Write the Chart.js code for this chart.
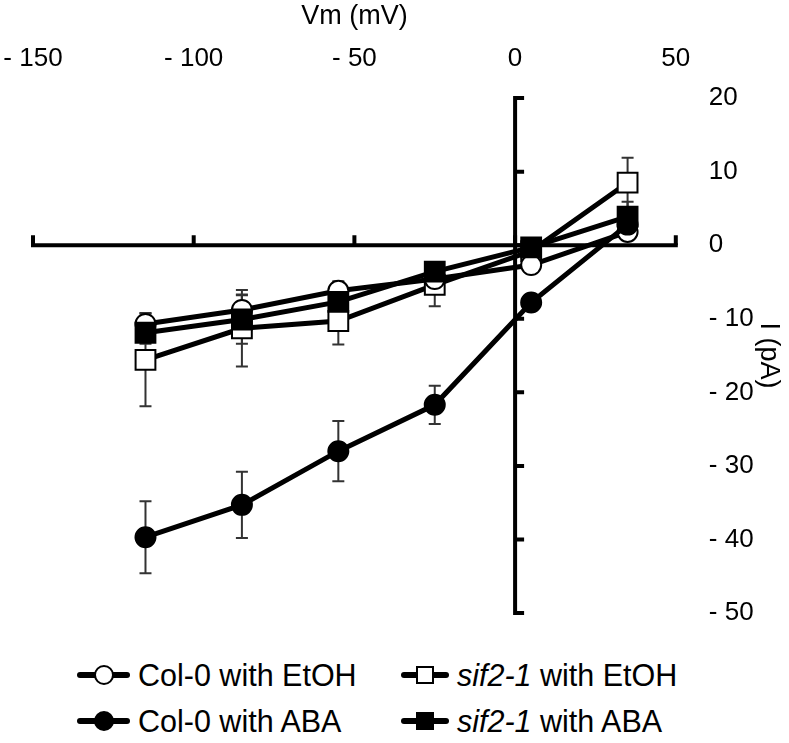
<!DOCTYPE html>
<html>
<head>
<meta charset="utf-8">
<script src="https://cdn.jsdelivr.net/npm/chart.js@4.4.1/dist/chart.umd.min.js"></script>
<style>
  body { margin: 0; background: #fff; }
  #wrap { position: relative; width: 789px; height: 743px; font-family: "Liberation Sans", Arial, sans-serif; }
  #ivChart { position: absolute; left: 0; top: 0; }
  .leg { position: absolute; font-size: 30.5px; color: #000; white-space: nowrap; line-height: 1; }
  .leg .icon { position: absolute; left: 0; top: 50%; height: 6px; margin-top: -3px; background: #000; border-radius: 3px; }
  .leg .mk { position: absolute; top: 50%; left: 50%; box-sizing: border-box; border: 2px solid #000; }
  .leg .txt { position: absolute; top: 50%; transform: translateY(-50%); }
</style>
</head>
<body>
<div id="wrap">
  <canvas id="ivChart" width="789" height="640"></canvas>
  <div id="legend"></div>
</div>
<script>
// ==============================
// I-V curve (Vm vs I) recreation
// ==============================

// --- data ---
const voltages = [-115, -85, -55, -25, 5, 35];

const col0EtOH = [-10.7, -8.8, -6.2, -4.6, -2.7, 1.8];
const col0EtOHErr = [1.5, 2.1, 1.3, 1.2, 1.0, 1.0];

const col0ABA = [-39.7, -35.3, -28.0, -21.7, -7.8, 2.8];
const col0ABAErr = [4.9, 4.5, 4.1, 2.6, 1.0, 1.0];

const sif2EtOH = [-15.6, -11.3, -10.3, -5.4, -0.8, 8.5];
const sif2EtOHErr = [6.3, 5.2, 3.2, 2.9, 1.0, 3.4];

const sif2ABA = [-11.9, -10.1, -7.7, -3.6, -0.3, 3.9];
const sif2ABAErr = [1.5, 3.3, 1.5, 1.0, 1.0, 2.0];

const xTicks = [-150, -100, -50, 0, 50];
const yTicks = [20, 10, 0, -10, -20, -30, -40, -50];

// --- helpers ---
const toPoints = (ys) => voltages.map((v, i) => ({ x: v, y: ys[i] }));
const fmtTick = (v) => (v < 0 ? "- " + Math.abs(v) : String(v));
const FONT = "'Liberation Sans', Arial, sans-serif";

// axis lines crossing at the origin, ticks drawn on them
const crossAxes = {
  id: "crossAxes",
  beforeDatasetsDraw(chart) {
    const { ctx, scales: { x, y } } = chart;
    const y0 = y.getPixelForValue(0);
    const x0 = x.getPixelForValue(0);
    ctx.save();
    ctx.strokeStyle = "#000";
    ctx.lineWidth = 4;
    ctx.lineCap = "butt";
    ctx.beginPath();
    ctx.moveTo(x.getPixelForValue(xTicks[0]) - 2, y0);
    ctx.lineTo(x.getPixelForValue(xTicks[xTicks.length - 1]) + 2, y0);
    ctx.moveTo(x0, y.getPixelForValue(yTicks[0]) - 2);
    ctx.lineTo(x0, y.getPixelForValue(yTicks[yTicks.length - 1]) + 2);
    ctx.stroke();
    ctx.beginPath();
    xTicks.forEach((t) => {
      const px = x.getPixelForValue(t);
      ctx.moveTo(px, y0);
      ctx.lineTo(px, y0 - 10);
    });
    yTicks.forEach((t) => {
      const py = y.getPixelForValue(t);
      ctx.moveTo(x0, py);
      ctx.lineTo(x0 + 9, py);
    });
    ctx.stroke();
    ctx.restore();
  },
};

// vertical error bars from the err arrays
const errorBars = {
  id: "errorBars",
  beforeDatasetsDraw(chart) {
    const { ctx, scales: { x, y } } = chart;
    ctx.save();
    ctx.strokeStyle = "#333";
    ctx.lineWidth = 2;
    chart.data.datasets.forEach((ds) => {
      ds.data.forEach((p, i) => {
        const e = ds.errors[i];
        const px = x.getPixelForValue(p.x);
        const top = y.getPixelForValue(p.y + e);
        const bot = y.getPixelForValue(p.y - e);
        ctx.beginPath();
        ctx.moveTo(px, top);
        ctx.lineTo(px, bot);
        ctx.moveTo(px - 6, top);
        ctx.lineTo(px + 6, top);
        ctx.moveTo(px - 6, bot);
        ctx.lineTo(px + 6, bot);
        ctx.stroke();
      });
    });
    ctx.restore();
  },
};

function series(label, ys, errs, style, filled, order) {
  return {
    label,
    data: toPoints(ys),
    errors: errs,
    showLine: true,
    borderColor: "#000",
    borderWidth: 5,
    pointStyle: style,
    pointRadius: style === "rect" ? 14 : 10,
    pointBackgroundColor: filled ? "#000" : "#fff",
    pointBorderColor: "#000",
    pointBorderWidth: 2,
    pointHoverRadius: style === "rect" ? 14 : 10,
    order,
  };
}

const chart = new Chart(document.getElementById("ivChart").getContext("2d"), {
  type: "scatter",
  data: {
    datasets: [
      series("sif2-1 with ABA", sif2ABA, sif2ABAErr, "rect", true, 0),
      series("Col-0 with ABA", col0ABA, col0ABAErr, "circle", true, 1),
      series("Col-0 with EtOH", col0EtOH, col0EtOHErr, "circle", false, 2),
      series("sif2-1 with EtOH", sif2EtOH, sif2EtOHErr, "rect", false, 3),
    ],
  },
  options: {
    responsive: false,
    animation: false,
    events: [],
    layout: { padding: { left: 33, right: 4, top: 0, bottom: 27 } },
    plugins: { legend: { display: false }, tooltip: { enabled: false } },
    scales: {
      x: {
        type: "linear",
        position: "top",
        min: xTicks[0],
        max: xTicks[xTicks.length - 1],
        afterBuildTicks: (s) => { s.ticks = xTicks.map((v) => ({ value: v })); },
        ticks: { color: "#000", padding: 0, maxRotation: 0, font: { family: FONT, size: 26 }, callback: fmtTick },
        grid: { display: false, drawTicks: true, tickLength: 24 },
        border: { display: false },
        title: { display: true, text: "Vm (mV)", color: "#000", font: { family: FONT, size: 27 }, padding: { top: 0, bottom: 10.5 } },
      },
      y: {
        type: "linear",
        position: "right",
        min: yTicks[yTicks.length - 1],
        max: yTicks[0],
        afterBuildTicks: (s) => { s.ticks = yTicks.map((v) => ({ value: v })); },
        ticks: { color: "#000", padding: 0, font: { family: FONT, size: 26 }, callback: fmtTick },
        grid: { display: false, drawTicks: true, tickLength: 33 },
        border: { display: false },
        title: { display: true, text: "I (pA)", color: "#000", font: { family: FONT, size: 27 }, padding: { top: 0, bottom: -1 } },
      },
    },
  },
  plugins: [crossAxes, errorBars],
});

// --- HTML legend (two rows, two columns) ---
const legendItems = [
  { html: "Col-0 with EtOH", round: true, filled: false, left: 77, top: 675 },
  { html: "<i>sif2-1</i> with EtOH", round: false, filled: false, left: 401, top: 675 },
  { html: "Col-0 with ABA", round: true, filled: true, left: 77, top: 721 },
  { html: "<i>sif2-1</i> with ABA", round: false, filled: true, left: 401, top: 721 },
];
const legendEl = document.getElementById("legend");
legendItems.forEach((it) => {
  const d = document.createElement("div");
  d.className = "leg";
  d.style.left = it.left + "px";
  d.style.top = it.top + "px";
  const iconW = it.round ? 53 : 48;
  const size = it.round ? 20 : 18;
  d.innerHTML =
    `<span class="icon" style="width:${iconW}px">` +
    `<span class="mk" style="width:${size}px;height:${size}px;margin:-${size / 2}px 0 0 -${size / 2}px;` +
    `border-radius:${it.round ? "50%" : "0"};background:${it.filled ? "#000" : "#fff"}"></span></span>` +
    `<span class="txt" style="left:${iconW + 8}px">${it.html}</span>`;
  legendEl.appendChild(d);
});
</script>
</body>
</html>
